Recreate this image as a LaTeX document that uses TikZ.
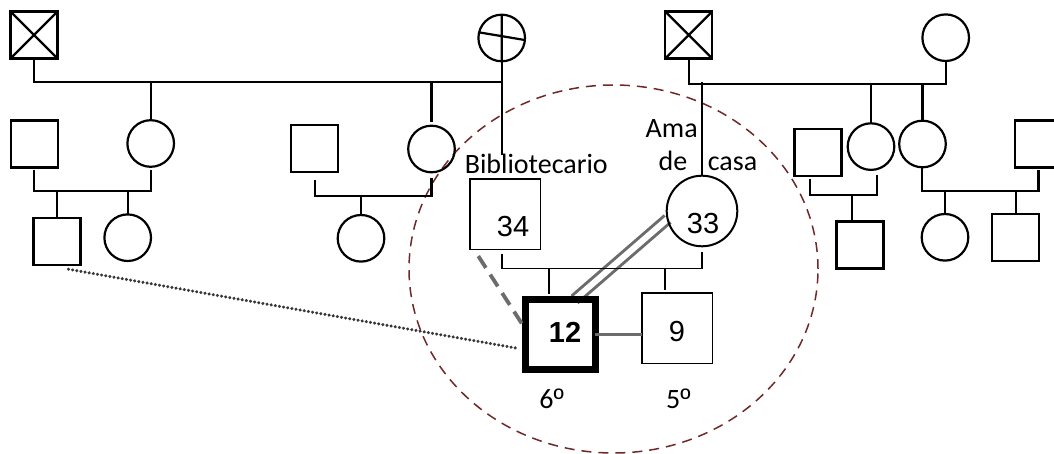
\documentclass[tikz,border=0pt]{standalone}
\usepackage{fontspec}
\setmainfont{Carlito}
\newfontfamily\arialf{Liberation Sans}
\usetikzlibrary{calc,shapes.geometric,decorations.markings}
\definecolor{lgray}{RGB}{108,108,108}
\definecolor{dgray}{RGB}{55,55,55}
\definecolor{dred}{RGB}{112,40,40}
\pgfdeclarelayer{bg}
\pgfsetlayers{bg,main}
\begin{document}
\begin{tikzpicture}[x=1pt,y=-1pt,
  every node/.style={inner sep=0pt, outer sep=0pt},
  sq/.style={draw, rectangle, line width=2.2pt, minimum size=47pt},
  ci/.style={draw, circle, line width=2.2pt, minimum size=46.6pt},
  bsq/.style={draw, rectangle, line width=1.6pt, minimum size=70.6pt},
  ln/.style={line width=2.2pt},
  tln/.style={line width=1.6pt},
  lbl/.style={font=\fontsize{28}{30}\selectfont, anchor=base},
  num/.style={font=\arialf\fontsize{29}{32}\selectfont},
  numb/.style={font=\arialf\bfseries\fontsize{29}{32}\selectfont},
  dotline/.style={postaction={decorate}, decoration={markings,
     mark=between positions 0 and 1 step 4.2pt with {\fill[dgray] (0,0) circle (1.7pt);}}},
]
\clip (0,0) rectangle (1054,454);
% focus ellipse
\node[draw=dred, ellipse, dash pattern=on 10pt off 7pt, line width=1.5pt,
      minimum width=409pt, minimum height=368pt] (focus) at (613.5,269) {};

% ---------- top generation
\node[sq] (gf1) at (34,35) {};
\draw[ln] (gf1.north west) -- (gf1.south east) (gf1.north east) -- (gf1.south west);
\node[ci] (gm1) at (501.7,38) {};
\draw[ln] (gm1.north) -- (gm1.south) (gm1.166) -- (gm1.-5);
\node[sq] (gf2) at (688.7,35) {};
\draw[ln] (gf2.north west) -- (gf2.south east) (gf2.north east) -- (gf2.south west);
\node[ci] (gm2) at (945.7,37.7) {};

\coordinate (bar0) at (0,81.7);
\coordinate (bar0r) at (0,84.3);
\coordinate (bib) at (501.7,155);
\draw[ln] (gf1.south) -- (gf1.south |- bar0) -- (gm1.south |- bar0);
\draw[ln] (gm1.south) -- (bib);
\draw[ln] (gf2.south) -- (gf2.south |- bar0r) -- (gm2.south |- bar0r) -- (gm2.south);

% ---------- left family
\node[ci] (a1) at (150.7,143.5) {};
\node[ci] (a2) at (431.5,149) {};
\draw[ln] (a1.north) -- (a1.north |- bar0);
\draw[ln] ($(a2.north)+(0,-4)$) -- (a2.north |- bar0);

\node[sq] (sp1) at (34.2,144) {};
\coordinate (bar1) at (0,190.7);
\draw[ln] ($(sp1.south)+(0,3)$) -- (sp1.south |- bar1) -- (a1.south |- bar1) -- ($(a1.south)+(0,3)$);
\node[sq] (k1) at (57,241.7) {};
\node[ci] (k2) at (127.7,237.7) {};
\draw[ln] (k1.north |- bar1) -- (k1.north);
\draw[ln] (k2.north |- bar1) -- (k2.north);

\node[sq] (sp2) at (314.7,148.3) {};
\coordinate (bar2) at (0,196);
\draw[ln] ($(sp2.south)+(0,8)$) -- (sp2.south |- bar2) -- (a2.south |- bar2) -- ($(a2.south)+(0,6)$);
\node[ci] (k3) at (361,238.3) {};
\draw[ln] (k3.north |- bar2) -- (k3.north);

% ---------- right family
\node[ci] (b1) at (871,146.6) {};
\node[ci] (b2) at (922.5,144) {};
\draw[ln] (b1.north) -- (b1.north |- bar0r);
\draw[ln] (b2.north) -- (b2.north |- bar0r);

\node[sq] (sp3) at (818,152.7) {};
\draw[ln] ($(sp3.south)+(-8,3)$) |- ($(b1.south)+(5.7,25.1)$) -- ++(0,-20);
\node[sq] (k4) at (860,245) {};
\draw[ln] ($(k4.north)+(-7.7,0)$) -- ++(0,-26.5);

\node[sq] (sp4) at (1038.5,144) {};
\draw[ln] ($(b2.south)+(-0.8,0)$) |- ($(sp4.south)+(0,23.5)$) -- ($(sp4.south)+(0,3)$);
\node[ci] (k5) at (945,237.3) {};
\node[sq] (k6) at (1015.7,237.5) {};
\draw[ln] (k5.north) -- ++(0,-23);
\draw[ln] (k6.north) -- ++(0,-23.3);

% ---------- nuclear family
\node[bsq] (f34) at (505.3,214.3) {};
\node[num] (t34) at (513,227) {34};
\node[lbl] (tbib) at (536.3,173.3) {Bibliotecario};
\node[draw, circle, line width=2pt, minimum size=70.6pt] (m33) at (702,211) {};
\node[num] (t33) at (703,224) {33};
\node[lbl] (tama) at (671.7,137.3) {Ama};
\node[lbl] (tde) at (673,170.7) {de};
\node[lbl] (tcasa) at (732.5,170.7) {casa};
\draw[ln] (m33.north) -- (m33.north |- bar0);

\draw[tln] ($(f34.south)+(-3.6,4)$) |- ($(m33.south)+(0,22)$) -- ($(m33.south)+(0,5.4)$);

\node[draw, rectangle, line width=7pt, minimum size=70pt] (p12) at (560,334.5) {};
\node[numb] (t12) at (565,332) {12};
\node[bsq] (p9) at (677,328.3) {};
\node[num] (t9) at (677,332) {9};
\draw[tln] ($(p12.north)+(-11,-5.5)$) -- ++(0,-26);
\draw[tln] ($(p9.north)+(-12,-3)$) -- ++(0,-22);

\draw[lgray, line width=3.2pt] (p12.east) -- (p12.east -| p9.west);
\begin{pgfonlayer}{bg}
\draw[lgray, line width=3pt, double=white, double distance=6pt]
  ($(p12.north)+(14.5,0)$) -- (m33.193);
\end{pgfonlayer}
\draw[lgray, line width=3.8pt, dash pattern=on 14pt off 8pt]
  ($(f34.south west)+(8.3,6.5)$) -- ($(p12.west)+(0,-6)$);
\path[dotline] ($(k1.south east)+(-12,4)$) -- ($(p12.west)+(-6.5,14)$);

\node[lbl] (g6) at (551.7,408) {6{\arialf º}};
\node[lbl] (g5) at (678.3,408) {5{\arialf º}};
\end{tikzpicture}
\end{document}
